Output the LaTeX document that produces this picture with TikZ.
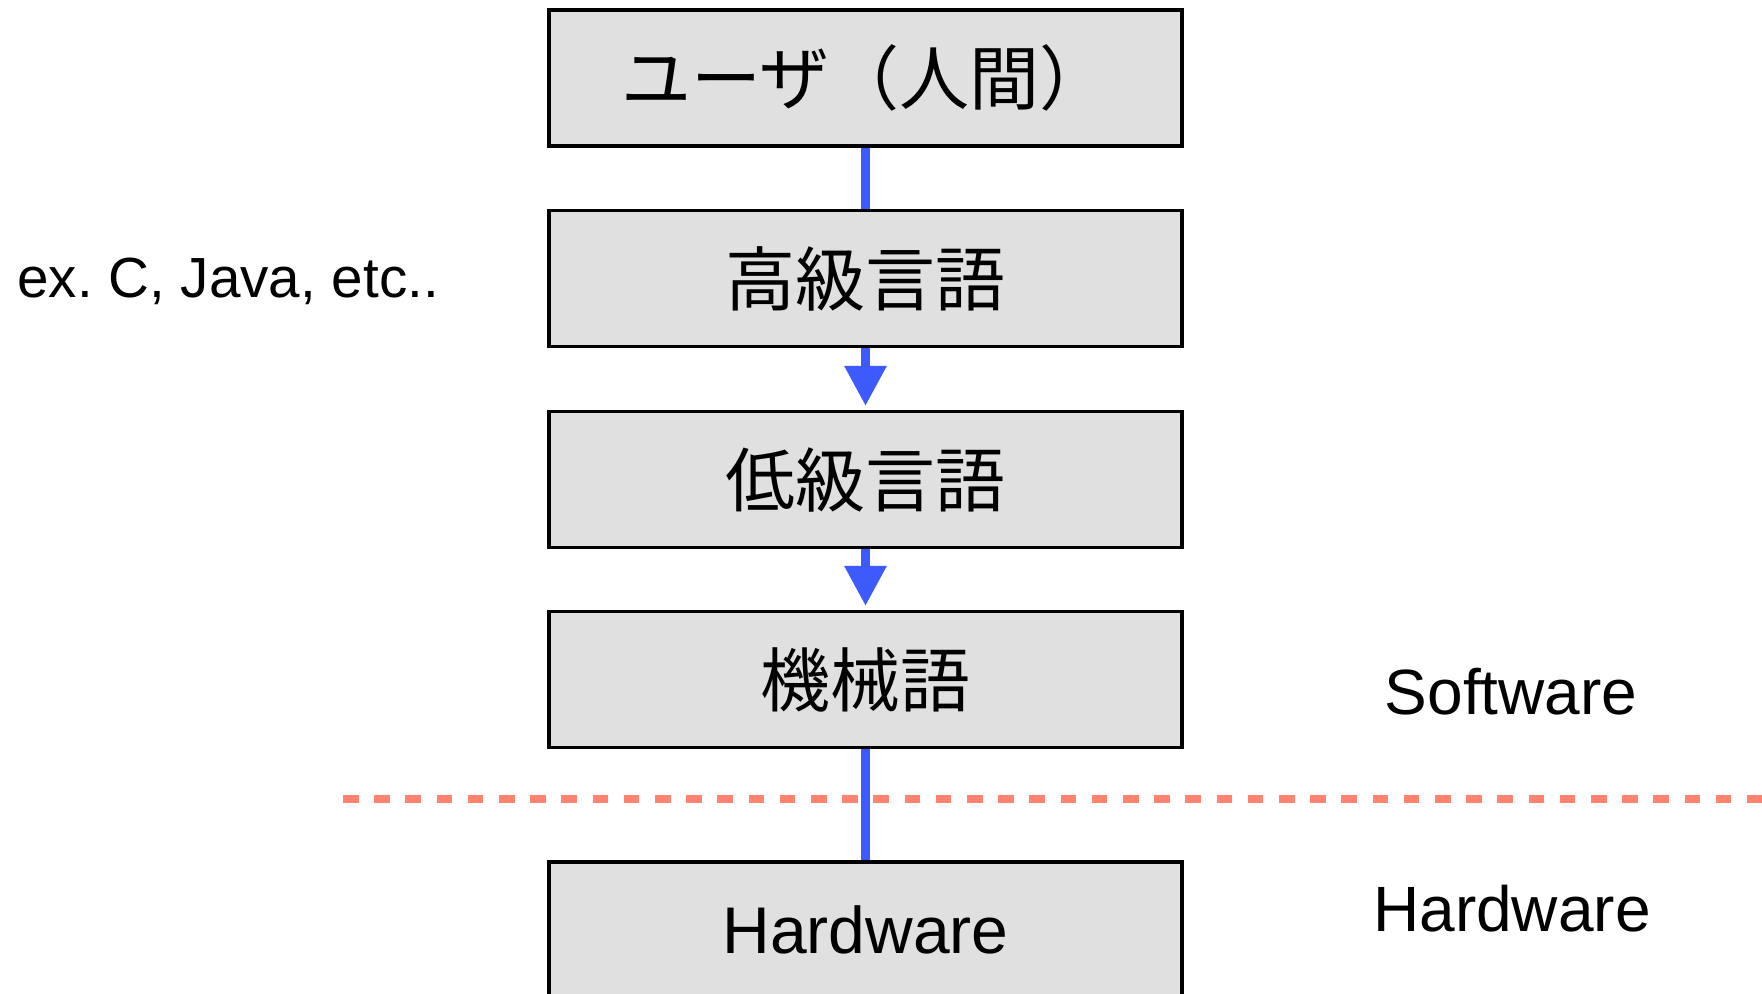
\documentclass[tikz,border=0pt]{standalone}
\usepackage{fontspec}
\setmainfont{Liberation Sans}
\newfontfamily\jp{Noto Sans CJK JP}
\usetikzlibrary{arrows.meta}
\definecolor{boxfill}{RGB}{224,224,224}
\definecolor{flowblue}{RGB}{61,90,254}
\definecolor{divred}{RGB}{255,131,112}
\frenchspacing
\begin{document}
\begin{tikzpicture}[x=0.5pt,y=-0.5pt,
  layer/.style={draw=black, line width=1.6pt, fill=boxfill, minimum width=316.5pt, minimum height=68pt, inner sep=0pt},
  jptext/.style={font=\jp\fontsize{35}{40}\selectfont},
  entext/.style={font=\fontsize{33}{38}\selectfont},
  sidelabel/.style={inner sep=0pt, font=\fontsize{32}{38}\selectfont},
  flow/.style={draw=flowblue, line width=4.5pt},
  flowarrow/.style={flow, -{Triangle[length=20pt,width=20pt]}, shorten >=2pt},
  divider/.style={draw=divred, line width=4pt, dash pattern=on 7.8pt off 7.8pt}
]
\useasboundingbox (0,0) rectangle (1762,993);
\fill[white] (0,0) rectangle (1762,993);

\node[layer,jptext] (user) at (865.5,78) {ユーザ（人間）};
\node[layer,jptext] (high) at (865.5,278.5) {高級言語};
\node[layer,jptext] (low) at (865.5,479.5) {低級言語};
\node[layer,jptext] (mach) at (865.5,679.5) {機械語};
\node[layer,entext] (hw) at (865.5,930) {Hardware};

\coordinate (divL) at (343,799);
\coordinate (divR) at (1762,799);
\draw[divider] (divL) -- (divR);

\draw[flow] (user.south) -- (high.north);
\draw[flowarrow] (high.south) -- (low.north);
\draw[flowarrow] (low.south) -- (mach.north);
\draw[flow] (mach.south) -- (hw.north);

\node[sidelabel, anchor=west, font=\fontsize{28.3}{34}\selectfont] (ex) at (17,281) {ex. C, Java, etc..};
\node[sidelabel] (sw) at (1511,692) {Software};
\node[sidelabel] (hwlabel) at (1512,909) {Hardware};
\end{tikzpicture}
\end{document}
